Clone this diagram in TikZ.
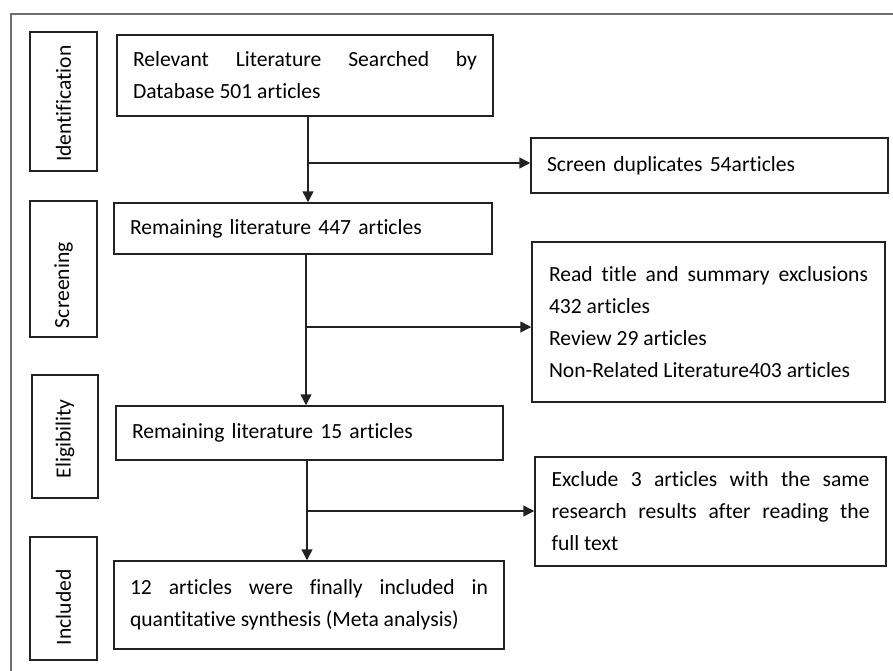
\documentclass[tikz,border=0pt]{standalone}
\usepackage{fontspec}
\setmainfont{Carlito}[Ligatures={NoCommon,NoContextual}]
\usetikzlibrary{arrows.meta}
\definecolor{frm}{HTML}{6E6E6E}
\definecolor{ln}{HTML}{222222}
\newcommand{\boxfont}{\fontsize{21.6}{32}\selectfont}
\newcommand{\sidefont}{\fontsize{21.6}{26}\selectfont}
\tikzset{
  mainbox/.style={draw=ln, line width=1.5pt, rectangle, inner xsep=16pt, inner ysep=0pt,
    font=\boxfont, align=justify},
  leftbox/.style={draw=ln, line width=1.5pt, rectangle, inner xsep=16pt, inner ysep=0pt,
    font=\boxfont, align=left},
  sidebox/.style={draw=ln, line width=1.5pt, rectangle, rotate=90, inner ysep=0pt,
    font=\sidefont, align=left},
  conn/.style={draw=ln, line width=1.5pt},
  arr/.style={conn, -{Triangle[length=11pt,width=11pt]}},
}
\begin{document}
\hyphenpenalty=10000
\exhyphenpenalty=10000
\begin{tikzpicture}[x=1pt,y=-1pt]
\useasboundingbox (0,0) rectangle (893,671);
% outer frame (top and left only)
\coordinate (fbl) at (11,671);
\coordinate (ftl) at (11,14);
\coordinate (ftr) at (893,14);
\draw[frm, line width=1.5pt] (fbl) -- (ftl) -- (ftr);

% side stage labels
\node[sidebox, minimum width=139pt, minimum height=67pt, inner xsep=9pt, text width=121pt] (sid) at (63.5,101.5) {Identification};
\node[sidebox, minimum width=136pt, minimum height=67pt, inner xsep=9pt, text width=118pt] (sscr) at (63.5,269) {Screening};
\node[sidebox, minimum width=123pt, minimum height=66pt, inner xsep=20pt, text width=83pt] (selig) at (65,436.5) {Eligibility};
\node[sidebox, minimum width=123pt, minimum height=67pt, inner xsep=15pt, text width=93pt] (sinc) at (63.5,598.5) {Included};

% main boxes
\node[mainbox, minimum width=376pt, minimum height=81pt, text width=344pt] (b1) at (305,75.5)
  {Relevant Literature Searched by\linebreak Database 501 articles};
\node[leftbox, minimum width=357pt, minimum height=55pt, text width=325pt] (b2) at (709.5,165.5)
  {Screen duplicates 54articles};
\node[leftbox, minimum width=378pt, minimum height=51pt, text width=346pt] (b3) at (303,228.5)
  {Remaining literature 447 articles};
\node[mainbox, minimum width=353pt, minimum height=160pt, text width=319pt, inner xsep=17pt] (b4) at (708.5,322)
  {Read title and summary exclusions\linebreak 432 articles\\Review 29 articles\\Non-Related Literature403 articles\par\vspace{10pt}};
\node[leftbox, minimum width=387pt, minimum height=54pt, text width=355pt] (b5) at (309.5,433)
  {Remaining literature 15 articles};
\node[mainbox, minimum width=351pt, minimum height=109pt, text width=318pt, inner xsep=16.5pt] (b6) at (710.5,511.5)
  {Exclude 3 articles with the same\linebreak research results after reading the\linebreak full text};
\node[mainbox, minimum width=390pt, minimum height=88pt, text width=358pt] (b7) at (309,605)
  {12 articles were finally included in\linebreak quantitative synthesis (Meta analysis)};

% connectors
\coordinate (j1) at (308,163);
\coordinate (j2) at (306,327);
\coordinate (j3) at (307,511);
\draw[arr] (b1.south -| j1) -- (b3.north -| j1);
\draw[arr] (j1) -- (b2.west |- j1);
\draw[arr] (b3.south -| j2) -- (b5.north -| j2);
\draw[arr] (j2) -- (b4.west |- j2);
\draw[arr] (b5.south -| j3) -- (b7.north -| j3);
\draw[arr] (j3) -- (b6.west |- j3);
\end{tikzpicture}
\end{document}
